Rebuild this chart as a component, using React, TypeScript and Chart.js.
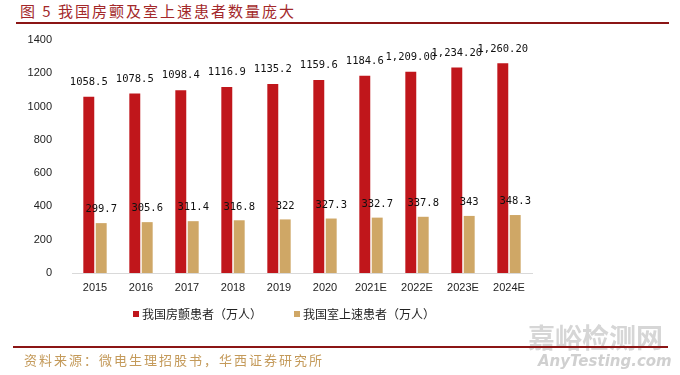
import React, { useEffect, useRef } from "react";
import { Chart, registerables } from "chart.js";

Chart.register(...registerables);

const categories = ["2015", "2016", "2017", "2018", "2019", "2020", "2021E", "2022E", "2023E", "2024E"];
const afPatients = [1058.5, 1078.5, 1098.4, 1116.9, 1135.2, 1159.6, 1184.6, 1209.0, 1234.2, 1260.2];
const svtPatients = [299.7, 305.6, 311.4, 316.8, 322, 327.3, 332.7, 337.8, 343, 348.3];
const seriesNames = ["我国房颤患者（万人）", "我国室上速患者（万人）"];
const commaFormatted = [7, 8, 9]; // red labels shown as "1,209.00" style
const yMax = 1400;
const yStep = 200;

const RED = "#C0161B";
const GOLD = "#CFA766";

function formatLabel(ds: number, i: number, v: number): string {
  if (ds === 0 && commaFormatted.includes(i)) {
    return v.toLocaleString("en-US", { minimumFractionDigits: 2, maximumFractionDigits: 2 });
  }
  return String(v);
}

const labelPlugin = {
  id: "valueLabels",
  afterDatasetsDraw(chart: any) {
    const ctx = chart.ctx;
    ctx.save();
    ctx.font = "10.5px 'DejaVu Sans Mono', monospace";
    ctx.fillStyle = "#111";
    ctx.textAlign = "center";
    ctx.textBaseline = "middle";
    chart.data.datasets.forEach((d: any, di: number) => {
      const meta = chart.getDatasetMeta(di);
      meta.data.forEach((el: any, i: number) => {
        const off = di === 0 ? 14.5 : 13.5;
        ctx.fillText(formatLabel(di, i, d.data[i]), el.x, el.y - off);
      });
    });
    ctx.restore();
  },
};

export default function App() {
  const ref = useRef<HTMLCanvasElement>(null);
  useEffect(() => {
    if (!ref.current) return;
    const chart = new Chart(ref.current, {
      type: "bar",
      data: {
        labels: categories,
        datasets: [
          { label: seriesNames[0], data: afPatients, backgroundColor: RED, categoryPercentage: 0.54, barPercentage: 0.88 },
          { label: seriesNames[1], data: svtPatients, backgroundColor: GOLD, categoryPercentage: 0.54, barPercentage: 0.88 },
        ],
      },
      options: {
        animation: false,
        responsive: false,
        maintainAspectRatio: false,
        layout: { padding: { left: 0, top: 40, right: 148, bottom: 72 } },
        plugins: { legend: { display: false }, tooltip: { enabled: false } },
        scales: {
          x: {
            grid: { display: true, drawOnChartArea: false, drawTicks: false, color: "rgba(0,0,0,0)" },
            border: { display: true, color: "#d9d9d9", width: 1 },
            ticks: { font: { family: "'Liberation Sans', Arial, sans-serif", size: 11 }, color: "#222", padding: 8 },
            afterFit: (s: any) => { s.height = 30; },
          },
          y: {
            min: 0,
            max: yMax,
            grid: { display: false },
            border: { display: false },
            ticks: {
              stepSize: yStep,
              callback: (v: any) => String(v),
              font: { family: "'Liberation Sans', Arial, sans-serif", size: 11 },
              color: "#222",
              padding: 12,
            },
            afterFit: (s: any) => { s.width = 72; },
          },
        },
      },
      plugins: [labelPlugin],
    });
    return () => chart.destroy();
  }, []);

  const cjk = "'Noto Sans CJK SC', sans-serif";
  return (
    <div style={{ position: "fixed", left: 0, top: 0, width: 680, height: 375, background: "#fff", overflow: "hidden" }}>
      <div style={{ position: "absolute", left: 20, top: 0, height: 21, lineHeight: "21px", fontFamily: cjk, fontSize: 15, color: "#A3282A", letterSpacing: 2, whiteSpace: "nowrap" }}>
        图 5 我国房颤及室上速患者数量庞大
      </div>
      <div style={{ position: "absolute", left: 16, top: 22, width: 653, height: 2, background: "#8B1515" }} />
      <canvas ref={ref} width={680} height={375} style={{ position: "absolute", left: 0, top: 0, width: 680, height: 375 }} />
      <div style={{ position: "absolute", left: 133, top: 305, height: 18, lineHeight: "18px", fontFamily: cjk, fontSize: 12, color: "#222", whiteSpace: "nowrap", display: "flex", alignItems: "center" }}>
        <span style={{ display: "inline-block", width: 6, height: 6, background: RED, marginRight: 3 }} />
        <span>{seriesNames[0]}</span>
        <span style={{ display: "inline-block", width: 6, height: 6, background: GOLD, marginLeft: 32, marginRight: 3 }} />
        <span>{seriesNames[1]}</span>
      </div>
      <div style={{ position: "absolute", left: 528, top: 322, fontFamily: cjk, fontSize: 27, fontWeight: 700, color: "#d6d6d6", lineHeight: "30px", whiteSpace: "nowrap" }}>
        嘉峪检测网
      </div>
      <div style={{ position: "absolute", left: 13, top: 346, width: 655, height: 2, background: "#8B1515" }} />
      <div style={{ position: "absolute", left: 538, top: 351, fontFamily: "'DejaVu Sans', sans-serif", fontSize: 15, fontStyle: "italic", fontWeight: 700, color: "#d0d0d0", lineHeight: "20px", whiteSpace: "nowrap" }}>
        AnyTesting.com
      </div>
      <div style={{ position: "absolute", left: 24, top: 351, fontFamily: cjk, fontSize: 13, color: "#C49A5A", lineHeight: "18px", letterSpacing: 2, whiteSpace: "nowrap" }}>
        资料来源：微电生理招股书，华西证券研究所
      </div>
    </div>
  );
}
